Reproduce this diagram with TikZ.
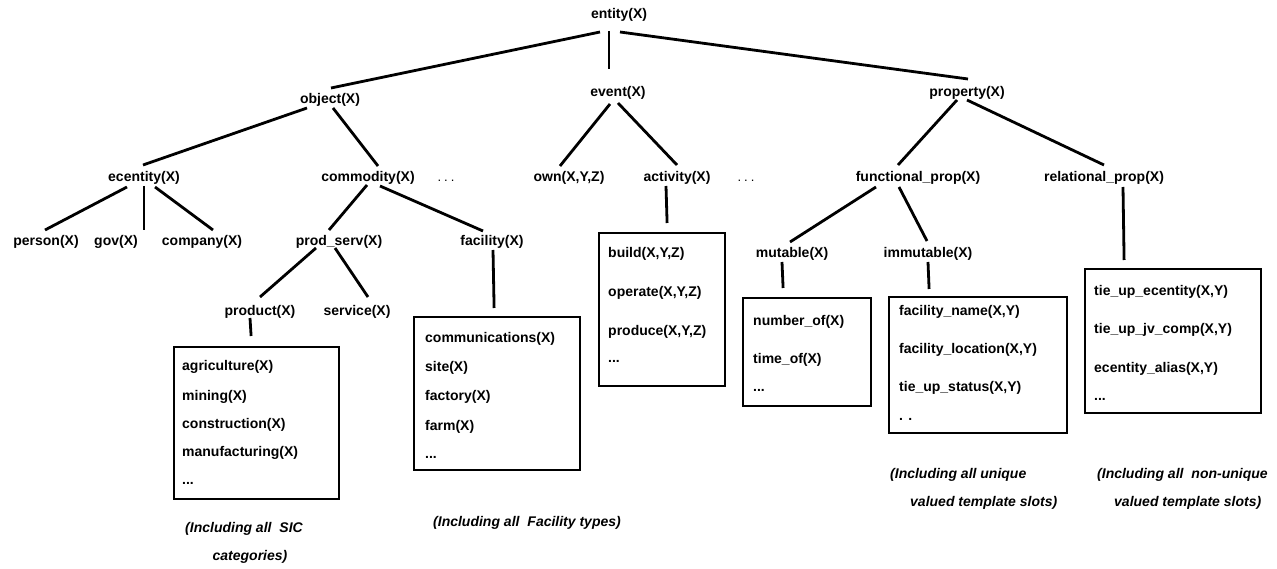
\documentclass[tikz,border=0pt]{standalone}
\usepackage{fontspec}
\setmainfont{Liberation Sans}
\begin{document}
\begin{tikzpicture}[x=1pt,y=-1pt,
  lbl/.style={font=\fontsize{14}{16}\selectfont\bfseries, inner sep=0pt, text height=10pt, text depth=3pt},
  item/.style={lbl, anchor=west},
  noteline/.style={font=\fontsize{14}{16}\selectfont\bfseries\itshape, inner sep=0pt, text height=10pt, text depth=3pt, anchor=west},
  dotlbl/.style={font=\fontsize{13}{15}\selectfont, inner sep=0pt, text height=10pt, text depth=3pt},
  edge/.style={line width=2.8pt},
  tbox/.style={draw, line width=2.2pt, anchor=north west, inner sep=0pt}
]
\useasboundingbox (0,0) rectangle (1277,569);

% tree labels
\node[lbl] (entity) at (619,15) {entity(X)};
\node[lbl] (object) at (330,100) {object(X)};
\node[lbl] (event) at (618,93) {event(X)};
\node[lbl] (property) at (967,93) {property(X)};
\node[lbl] (ecentity) at (144,178) {ecentity(X)};
\node[lbl] (commodity) at (368,178) {commodity(X)};
\node[dotlbl] (dotsa) at (446,178) {.\hspace{3pt}.\hspace{3pt}.};
\node[lbl] (own) at (569,178) {own(X,Y,Z)};
\node[lbl] (activity) at (677,178) {activity(X)};
\node[dotlbl] (dotsb) at (746,178) {.\hspace{3pt}.\hspace{3pt}.};
\node[lbl] (functional) at (918,178) {functional\_prop(X)};
\node[lbl] (relational) at (1104,178) {relational\_prop(X)};
\node[lbl] (person) at (46,242) {person(X)};
\node[lbl] (gov) at (116,242) {gov(X)};
\node[lbl] (company) at (202,242) {company(X)};
\node[lbl] (prodserv) at (339,242) {prod\_serv(X)};
\node[lbl] (facility) at (492,242) {facility(X)};
\node[lbl] (mutable) at (792,254) {mutable(X)};
\node[lbl] (immutable) at (928,254) {immutable(X)};
\node[lbl] (product) at (260,312) {product(X)};
\node[lbl] (service) at (357,312) {service(X)};

% boxes
\node[tbox, minimum width=165pt, minimum height=152pt] (prodbox) at (173,346) {};
\node[tbox, minimum width=166pt, minimum height=153pt] (facbox) at (413,316) {};
\node[tbox, minimum width=126pt, minimum height=153pt] (actbox) at (598,232) {};
\node[tbox, minimum width=128pt, minimum height=108pt] (mutbox) at (742,297) {};
\node[tbox, minimum width=178pt, minimum height=136pt] (immbox) at (888,296) {};
\node[tbox, minimum width=176pt, minimum height=144pt] (relbox) at (1084,268) {};

% box items
\node[item] (pa) at (182,367) {agriculture(X)};
\node[item] (pb) at (182,397) {mining(X)};
\node[item] (pc) at (182,425) {construction(X)};
\node[item] (pd) at (182,453) {manufacturing(X)};
\node[item] (pe) at (182,481) {...};
\node[item] (fa) at (425,339) {communications(X)};
\node[item] (fb) at (425,368) {site(X)};
\node[item] (fc) at (425,397) {factory(X)};
\node[item] (fd) at (425,427) {farm(X)};
\node[item] (fe) at (425,455) {...};
\node[item] (aa) at (608,254) {build(X,Y,Z)};
\node[item] (ab) at (608,293) {operate(X,Y,Z)};
\node[item] (ac) at (608,332) {produce(X,Y,Z)};
\node[item] (ad) at (608,359) {...};
\node[item] (ma) at (753,322) {number\_of(X)};
\node[item] (mb) at (753,360) {time\_of(X)};
\node[item] (mc) at (753,388) {...};
\node[item] (ia) at (899,312) {facility\_name(X,Y)};
\node[item] (ib) at (899,350) {facility\_location(X,Y)};
\node[item] (ic) at (899,388) {tie\_up\_status(X,Y)};
\node[item] (id) at (899,417) {. .};
\node[item] (ra) at (1094,292) {tie\_up\_ecentity(X,Y)};
\node[item] (rb) at (1094,330) {tie\_up\_jv\_comp(X,Y)};
\node[item] (rc) at (1094,369) {ecentity\_alias(X,Y)};
\node[item] (rd) at (1094,397) {...};

% notes
\node[noteline, anchor=center] (sica) at (244,529) {(Including all\hspace{4pt} SIC};
\node[noteline, anchor=center] (sicb) at (250,557) {categories)};
\node[noteline, anchor=center] (facnote) at (527,523) {(Including all\hspace{4pt} Facility types)};
\node[noteline] (uniqa) at (890,475) {(Including all unique};
\node[noteline] (uniqb) at (910,503) {valued template slots)};
\node[noteline] (nonua) at (1097,475) {(Including all\hspace{4pt} non-unique};
\node[noteline] (nonub) at (1114,503) {valued template slots)};

% connectors
\draw[edge] ([shift={(-19,17)}]entity.center) -- ([shift={(1,-12)}]object.center);
\draw[edge] ([shift={(-10,16)}]entity.center) -- ([shift={(-9,-24)}]event.center);
\draw[edge] ([shift={(1,17)}]entity.center) -- ([shift={(1,-14)}]property.center);
\draw[edge] ([shift={(-23,8)}]object.center) -- ([shift={(-1,-13)}]ecentity.center);
\draw[edge] ([shift={(3,8)}]object.center) -- ([shift={(10,-12)}]commodity.center);
\draw[edge] ([shift={(-8,11)}]event.center) -- ([shift={(-9,-12)}]own.center);
\draw[edge] ([shift={(0,10)}]event.center) -- ([shift={(0,-13)}]activity.center);
\draw[edge] ([shift={(-10,7)}]property.center) -- ([shift={(-20,-13)}]functional.center);
\draw[edge] ([shift={(0,7)}]property.center) -- ([shift={(0,-13)}]relational.center);
\draw[edge] ([shift={(-17,9)}]ecentity.center) -- ([shift={(-1,-12)}]person.center);
\draw[edge] ([shift={(0,8)}]ecentity.center) -- ([shift={(28,-12)}]gov.center);
\draw[edge] ([shift={(11,9)}]ecentity.center) -- ([shift={(11,-12)}]company.center);
\draw[edge] ([shift={(-1,7)}]commodity.center) -- ([shift={(-10,-12)}]prodserv.center);
\draw[edge] ([shift={(12,8)}]commodity.center) -- ([shift={(-9,-11)}]facility.center);
\draw[edge] ([shift={(-23,6)}]prodserv.center) -- ([shift={(0,-15)}]product.center);
\draw[edge] ([shift={(-4,6)}]prodserv.center) -- ([shift={(11,-15)}]service.center);
\draw[edge] ([shift={(-10,6)}]product.center) -- ([shift={(-5.5,-10)}]prodbox.north);
\draw[edge] ([shift={(1,8)}]facility.center) -- ([shift={(-3,-8)}]facbox.north);
\draw[edge] ([shift={(-11,8)}]activity.center) -- ([shift={(5,-9)}]actbox.north);
\draw[edge] ([shift={(-42,9)}]functional.center) -- ([shift={(-2,-12)}]mutable.center);
\draw[edge] ([shift={(-19,9)}]functional.center) -- ([shift={(-1,-13)}]immutable.center);
\draw[edge] ([shift={(-10,8)}]mutable.center) -- ([shift={(-24,-9)}]mutbox.north);
\draw[edge] ([shift={(0,8)}]immutable.center) -- ([shift={(-49,-7)}]immbox.north);
\draw[edge] ([shift={(19,9)}]relational.center) -- ([shift={(-49,-8)}]relbox.north);
\end{tikzpicture}
\end{document}
